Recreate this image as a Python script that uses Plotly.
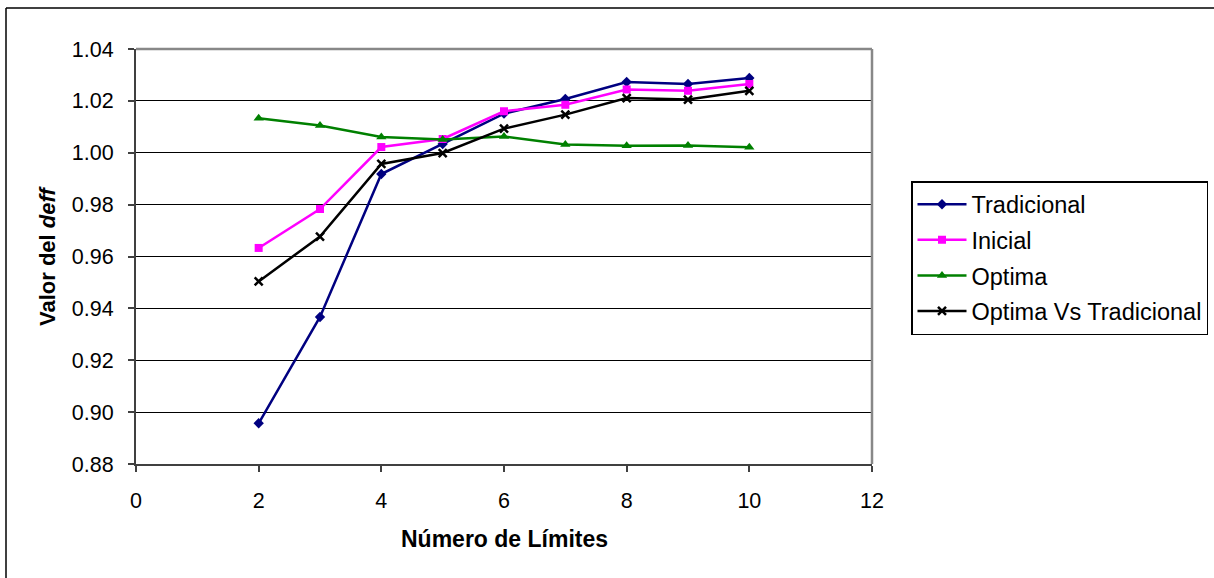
import plotly.graph_objects as go

# Number of limits and design effect (deff) per allocation method
limites = [2, 3, 4, 5, 6, 7, 8, 9, 10]
tradicional = [0.8957, 0.9367, 0.9918, 1.0034, 1.0151, 1.0207, 1.0273, 1.0265, 1.0288]
inicial = [0.9633, 0.9783, 1.0022, 1.0053, 1.0160, 1.0185, 1.0244, 1.0239, 1.0265]
optima = [1.0133, 1.0105, 1.0061, 1.0051, 1.0063, 1.0032, 1.0027, 1.0028, 1.0021]
optima_vs_trad = [0.9504, 0.9677, 0.9957, 0.9999, 1.0093, 1.0147, 1.0211, 1.0205, 1.0239]

x_ticks = [0, 2, 4, 6, 8, 10, 12]
y_ticks = [0.88, 0.90, 0.92, 0.94, 0.96, 0.98, 1.00, 1.02, 1.04]

W, H = 1214, 578
L, R, T, B = 136, 342, 49, 114
pw, ph = W - L - R, H - T - B

FONT = "Liberation Sans, Arial, sans-serif"

series = [
    ("Tradicional", tradicional, "#000080", "diamond", 8),
    ("Inicial", inicial, "#FF00FF", "square", 8),
    ("Optima", optima, "#008000", "triangle-up", 9),
    ("Optima Vs Tradicional", optima_vs_trad, "#000000", "x-thin-open", 8),
]

fig = go.Figure()
for name, vals, color, sym, size in series:
    fig.add_trace(go.Scatter(
        x=limites, y=vals, name=name, mode="lines+markers",
        legendgroup=name,
        line=dict(color=color, width=2.5),
        marker=dict(symbol=sym, size=size, color=color,
                    line=dict(color=color, width=2.5 if sym.startswith("x") else 0)),
    ))

def px_x(p):
    return (p - L) / pw

def px_y(p):
    return (H - B - p) / ph

shapes = [
    # outer chart frame (left and top edges)
    dict(type="line", xref="paper", yref="paper", x0=px_x(6), x1=px_x(1300),
         y0=px_y(8), y1=px_y(8), line=dict(color="#000000", width=1.5)),
    dict(type="line", xref="paper", yref="paper", x0=px_x(6), x1=px_x(6),
         y0=px_y(8), y1=px_y(700), line=dict(color="#000000", width=1.5)),
    # plot area border on top and right
    dict(type="line", xref="paper", yref="paper", x0=0, x1=1, y0=1, y1=1,
         line=dict(color="#888888", width=2.5)),
    dict(type="line", xref="paper", yref="paper", x0=1, x1=1, y0=0, y1=1,
         line=dict(color="#888888", width=2.5)),
]

annotations = [
    dict(text="<b>Número de Límites</b>", xref="paper", yref="paper",
         x=px_x(504), y=px_y(539), xanchor="center", yanchor="middle",
         showarrow=False, font=dict(family=FONT, size=23, color="#000000")),
    dict(text="<b>Valor del <i>deff</i></b>", xref="paper", yref="paper",
         x=px_x(48), y=px_y(256), xanchor="center", yanchor="middle",
         textangle=-90, showarrow=False,
         font=dict(family=FONT, size=22, color="#000000")),
]

fig.update_layout(
    width=W, height=H,
    margin=dict(l=L, r=R, t=T, b=B, pad=0, autoexpand=False),
    paper_bgcolor="white", plot_bgcolor="white",
    font=dict(family=FONT, size=21, color="#000000"),
    showlegend=True,
    legend=dict(
        xref="container", yref="container",
        x=911 / W, y=1 - 181 / H, xanchor="left", yanchor="top",
        bordercolor="#000000", borderwidth=1.5, bgcolor="white",
        font=dict(family=FONT, size=23.5, color="#000000"),
        tracegroupgap=2, itemwidth=49,
    ),
    xaxis=dict(
        range=[0, 12], tickvals=x_ticks, ticktext=[str(v) for v in x_ticks],
        showgrid=False, zeroline=False, automargin=False,
        showline=True, linecolor="#404040", linewidth=2,
        ticks="outside", ticklen=6, tickwidth=1.5, tickcolor="#404040",
        tickfont=dict(family=FONT, size=21.5), ticklabelstandoff=10,
    ),
    yaxis=dict(
        range=[0.88, 1.04], tickvals=y_ticks,
        ticktext=[f"{v:.2f}" for v in y_ticks],
        showgrid=True, gridcolor="#000000", gridwidth=1, zeroline=False,
        automargin=False,
        showline=True, linecolor="#404040", linewidth=2,
        ticks="outside", ticklen=6, tickwidth=1.5, tickcolor="#404040",
        tickfont=dict(family=FONT, size=21.5), ticklabelstandoff=10,
    ),
    shapes=shapes,
    annotations=annotations,
)

fig.write_html("out.html")
